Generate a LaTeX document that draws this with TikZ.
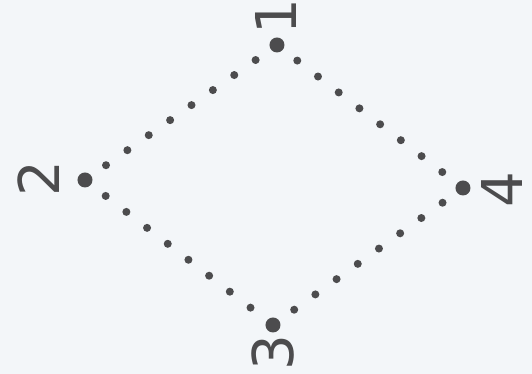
\documentclass[tikz,border=0pt]{standalone}
\usepackage{fontspec}
\setmainfont{DejaVu Sans}
\usetikzlibrary{calc}
\definecolor{paper}{RGB}{243,246,249}
\definecolor{ink}{RGB}{76,76,78}
\tikzset{
 rhb vertex/.style={circle,fill=ink,draw=none,minimum size=15*0.2845pt,
                    inner sep=0pt,outer sep=0pt},
 rhb dotted/.style={ink,line width=8*0.2845pt,line cap=round,
                    dash pattern=on 0pt off 7.43pt},
 rhb label/.style={text=ink,rotate=90,inner sep=0pt,
                   font=\fontsize{16}{16}\selectfont}
}
\begin{document}
\begin{tikzpicture}[x=0.01cm,y=-0.01cm]
 \fill[paper] (0,0) rectangle (532,374);
 \useasboundingbox (0,0) rectangle (532,374);
 \foreach \i/\x/\y/\lx/\ly in {1/277/45/276/17,2/85/180/39/179,
                               3/273/325/273/353,4/463/188/502/190}{
   \coordinate (v\i) at (\x,\y);
   \node[rhb label] (l\i) at (\lx,\ly) {\i};
 }
 \foreach \a/\b in {1/2,2/3,3/4,4/1}{\draw[rhb dotted] (v\a)--(v\b);}
 \foreach \v in {v1,v2,v3,v4}{\node[rhb vertex] at (\v) {};}
\end{tikzpicture}
\end{document}
